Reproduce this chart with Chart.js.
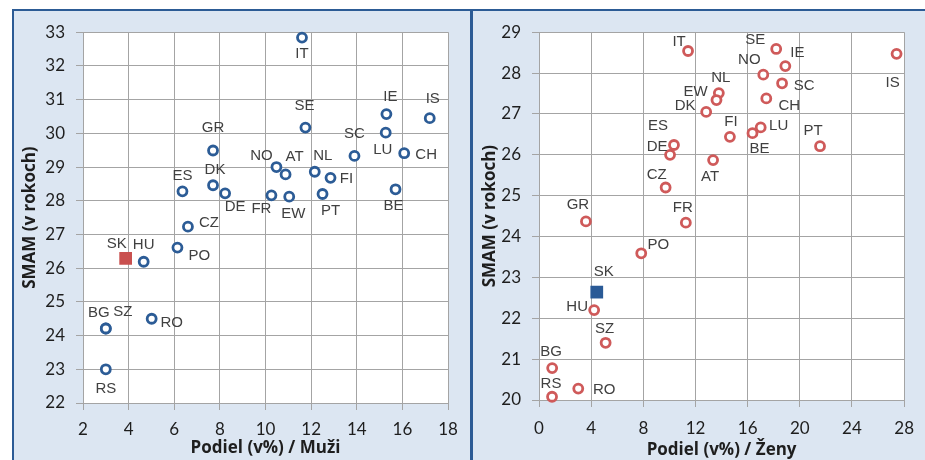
<!DOCTYPE html>
<html>
<head>
<meta charset="utf-8">
<script src="https://cdn.jsdelivr.net/npm/chart.js@4.4.0/dist/chart.umd.min.js"></script>
<style>
body { margin:0; background:#fff; width:925px; height:460px; overflow:hidden; position:relative; }
#ram { position:absolute; left:12px; top:9px; width:913px; height:451px; background:#dce6f2;
       border-top:2px solid #2c5b95; border-left:2px solid #2c5b95; box-sizing:border-box; }
#delic { position:absolute; left:470px; top:9px; width:3px; height:451px; background:#2c5b95; }
.graf { position:absolute; top:11px; }
</style>
</head>
<body>
<div id="ram"></div>
<div id="delic"></div>
<div class="graf" style="left:14px"><canvas id="grafMuzi" width="456" height="449"></canvas></div>
<div class="graf" style="left:473px"><canvas id="grafZeny" width="452" height="449"></canvas></div>
<script>
// muzi
var krajinyM = ['IT','SE','IE','IS','LU','CH','SC','GR','NO','AT','NL','FI','ES','DK','DE','FR','EW','PT','BE','CZ','HU','PO','BG','SZ','RO','RS'];
var podielM = [11.6,11.75,15.3,17.2,15.27,16.08,13.9,7.7,10.48,10.88,12.16,12.85,6.36,7.7,8.23,10.26,11.04,12.5,15.7,6.6,4.66,6.14,3.0,3.0,5.01,3.0];
var smamM = [32.84,30.17,30.57,30.45,30.02,29.41,29.33,29.49,29.0,28.78,28.86,28.68,28.28,28.46,28.22,28.16,28.12,28.2,28.34,27.23,26.19,26.61,24.21,24.21,24.5,23.0];
var skM = [3.87, 26.29];

// zeny
var krajinyZ = ['IT','SE','IE','IS','NO','SC','CH','NL','EW','DK','FI','LU','BE','PT','ES','DE','AT','CZ','GR','FR','PO','HU','SZ','BG','RS','RO'];
var podielZ = [11.43,18.19,18.89,27.42,17.2,18.64,17.43,13.79,13.61,12.82,14.64,17.0,16.37,21.55,10.35,10.05,13.35,9.71,3.6,11.26,7.84,4.23,5.11,1.01,1.0,3.01];
var smamZ = [28.54,28.59,28.17,28.47,27.96,27.75,27.38,27.51,27.34,27.05,26.44,26.67,26.53,26.21,26.24,26.0,25.87,25.2,24.37,24.34,23.59,22.2,21.4,20.78,20.08,20.28];
var skZ = [4.43, 22.64];

// umiestnenie popisov [dx, dy] v px
var posunM = {IT:[0,16], SE:[-1,-22], IE:[4,-17], IS:[3,-19], LU:[-3,17], CH:[22,2], SC:[0,-22], GR:[0,-23],
    NO:[-15,-11], AT:[9,-18], NL:[8,-16], FI:[16,1], ES:[0,-15], DK:[2,-15], DE:[10,14], FR:[-10,14],
    EW:[4,17], PT:[8,17], BE:[-2,17], CZ:[21,-4], SK:[-9,-15], HU:[0,-17], PO:[22,8], BG:[-7,-16],
    SZ:[17,-17], RO:[20,4], RS:[0,20]};
var posunZ = {IT:[-9,-9], SE:[-21,-9], IE:[12,-13], IS:[-4,29], NO:[-14,-15], SC:[22,3], CH:[23,7],
    NL:[2,-15], EW:[-21,-8], DK:[-21,-6], FI:[1,-15], LU:[18,-2], BE:[7,16], PT:[-7,-15], ES:[-16,-19],
    DE:[-13,-8], AT:[-3,17], CZ:[-9,-13], GR:[-8,-17], FR:[-3,-15], PO:[17,-8], SK:[7,-20], HU:[-17,-3],
    SZ:[-1,-14], BG:[-1,-16], RS:[-1,-13], RO:[26,1]};

var bielePozadie = {
    id:'bielePozadie',
    beforeDraw: function(chart){
        var a = chart.chartArea, ctx = chart.ctx;
        ctx.save();
        ctx.fillStyle = '#ffffff';
        ctx.fillRect(a.left, a.top, a.right - a.left, a.bottom - a.top);
        ctx.restore();
    }
};

var popisy = {
    id:'popisy',
    afterDatasetsDraw: function(chart){
        var ctx = chart.ctx;
        ctx.save();
        ctx.font = '15px "Liberation Sans", Arial, sans-serif';
        ctx.fillStyle = '#404040';
        ctx.textAlign = 'center';
        ctx.textBaseline = 'middle';
        chart.data.datasets.forEach(function(ds, i){
            var meta = chart.getDatasetMeta(i);
            meta.data.forEach(function(el, j){
                var name = ds.nazvy[j];
                var p = chart.options.posun[name] || [0,0];
                ctx.fillText(name, el.x + p[0], el.y + p[1]);
            });
        });
        ctx.restore();
    }
};

function graf(id, krajiny, podiel, smam, sk, posun, n){
    var body = krajiny.map(function(k, i){ return {x: podiel[i], y: smam[i]}; });
    var canva = document.getElementById(id).getContext('2d');
    return new Chart(canva, {
        type:'scatter',
        data:{
            datasets:[{
                nazvy: krajiny,
                data: body,
                pointStyle:'circle',
                pointRadius:4.5,
                pointBorderWidth:2.8,
                borderColor:n.kruh,
                backgroundColor:'#ffffff',
                clip:false
            },{
                nazvy:['SK'],
                data:[{x: sk[0], y: sk[1]}],
                pointStyle:'rect',
                pointRadius:9,
                pointBorderWidth:0,
                borderColor:n.stvorec,
                backgroundColor:n.stvorec,
                clip:false
            }]
        },
        options:{
            responsive:false,
            animation:false,
            posun: posun,
            layout:{ padding:{ top:21, right:n.pravy, left:0, bottom:0 } },
            plugins:{ legend:{display:false}, tooltip:{enabled:false} },
            scales:{
                x:{
                    type:'linear', min:n.xMin, max:n.xMax,
                    ticks:{ stepSize:n.xKrok, padding:n.xPad, color:'#1e1e1e', font:{family:'Lato', size:17} },
                    grid:{ color:'#a4a4a4', tickLength:7 },
                    border:{ color:'#a4a4a4' },
                    title:{ display:true, text:n.xNazov, color:'#1e1e1e', padding:{top:0, bottom:n.xTitPad},
                            font:{family:'"Open Sans"', size:17, weight:'bold'} },
                    afterFit:function(s){ s.height = n.xVyska; }
                },
                y:{
                    type:'linear', min:n.yMin, max:n.yMax,
                    ticks:{ stepSize:1, padding:11, color:'#1e1e1e', font:{family:'Lato', size:17} },
                    grid:{ color:'#a4a4a4', tickLength:7 },
                    border:{ color:'#a4a4a4' },
                    title:{ display:true, text:'SMAM (v rokoch)', color:'#1e1e1e', padding:{top:n.yTitPad, bottom:0},
                            font:{family:'"Open Sans"', size:17, weight:'bold'} },
                    afterFit:function(s){ s.width = n.ySirka; }
                }
            }
        },
        plugins:[bielePozadie, popisy]
    });
}

graf('grafMuzi', krajinyM, podielM, smamM, skM, posunM, {
    kruh:'#2c5c96', stvorec:'#c9504f', xMin:2, xMax:18, xKrok:2, yMin:22, yMax:33,
    xNazov:'Podiel (v%) / Muži', pravy:22, xVyska:57, ySirka:69, xPad:9, xTitPad:2, yTitPad:6
});
graf('grafZeny', krajinyZ, podielZ, smamZ, skZ, posunZ, {
    kruh:'#cf5a5a', stvorec:'#2a5a96', xMin:0, xMax:28, xKrok:4, yMin:20, yMax:29,
    xNazov:'Podiel (v%) / Ženy', pravy:17, xVyska:60, ySirka:66, xPad:11, xTitPad:0, yTitPad:7
});
</script>
</body>
</html>
